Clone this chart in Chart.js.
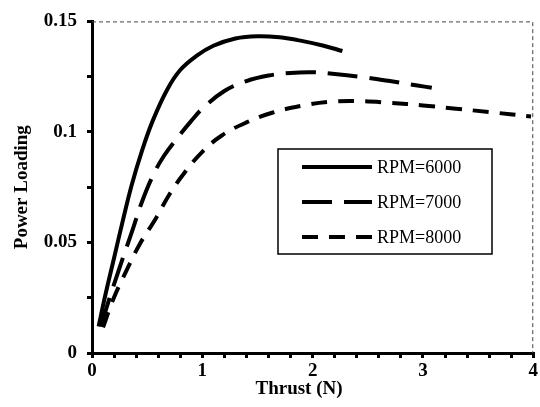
<!DOCTYPE html>
<html>
<head>
<meta charset="utf-8">
<script src="https://cdn.jsdelivr.net/npm/chart.js@4/dist/chart.umd.min.js"></script>
<style>
  html, body { margin: 0; padding: 0; background: #fff; }
  #wrap { width: 540px; height: 407px; position: relative; }
</style>
</head>
<body>
<div id="wrap"><canvas id="c" width="540" height="407"></canvas></div>
<script>
// ---- data ----
const seriesLabels = ['RPM=6000', 'RPM=7000', 'RPM=8000'];

const thrust6000 = [0.06, 0.12, 0.2, 0.28, 0.36, 0.45, 0.55, 0.68, 0.8, 0.95, 1.1, 1.3, 1.5, 1.7, 1.9, 2.1, 2.27];
const load6000   = [0.012, 0.026, 0.043, 0.060, 0.076, 0.091, 0.105, 0.119, 0.128, 0.1345, 0.139, 0.1423, 0.1433, 0.1428, 0.1412, 0.139, 0.1366];

const thrust7000 = [0.08, 0.16, 0.28, 0.37, 0.45, 0.55, 0.65, 0.77, 0.9, 1.0, 1.2, 1.4, 1.6, 1.8, 2.0, 2.2, 2.45, 2.7, 2.95, 3.08];
const load7000   = [0.012, 0.025, 0.043, 0.056, 0.068, 0.080, 0.089, 0.097, 0.105, 0.1105, 0.1185, 0.123, 0.1255, 0.1267, 0.127, 0.1262, 0.1248, 0.123, 0.121, 0.120];

const thrust8000 = [0.1, 0.19, 0.31, 0.43, 0.58, 0.70, 0.83, 1.0, 1.18, 1.40, 1.64, 1.91, 2.15, 2.4, 2.7, 3.0, 3.3, 3.6, 3.98];
const load8000   = [0.0116, 0.024, 0.037, 0.049, 0.061, 0.0716, 0.081, 0.091, 0.0985, 0.1043, 0.1088, 0.1119, 0.1136, 0.1140, 0.1132, 0.1120, 0.1105, 0.1090, 0.1070];

const xTicksShown = [0, 1, 2, 3, 4];
const yTicksShown = [0, 0.05, 0.1, 0.15];
const xTitle = 'Thrust (N)';
const yTitle = 'Power Loading';

function pts(xs, ys) { return xs.map((x, i) => ({ x: x, y: ys[i] })); }
function isShown(v, list) { return list.some(t => Math.abs(t - v) < 1e-9); }

const SERIF = '"Liberation Serif", "Times New Roman", serif';

const legendPlugin = {
  id: 'boxLegend',
  afterDatasetsDraw(chart) {
    const ctx = chart.ctx;
    const a = chart.chartArea;
    ctx.save();
    // dashed top and right frame
    ctx.setLineDash([4, 3]);
    ctx.strokeStyle = '#444';
    ctx.lineWidth = 1;
    ctx.beginPath();
    ctx.moveTo(a.left, a.top + 0.5);
    ctx.lineTo(a.right - 0.5, a.top + 0.5);
    ctx.lineTo(a.right - 0.5, a.bottom);
    ctx.stroke();
    ctx.setLineDash([]);

    // legend box
    const bx = 278, by = 149, bw = 214, bh = 105;
    ctx.fillStyle = '#fff';
    ctx.fillRect(bx, by, bw, bh);
    ctx.strokeStyle = '#000';
    ctx.lineWidth = 1.5;
    ctx.strokeRect(bx, by, bw, bh);
    const rowY = [167, 202, 237];
    chart.data.datasets.forEach((ds, i) => {
      const y = rowY[i];
      ctx.setLineDash(ds.borderDash || []);
      ctx.lineWidth = ds.borderWidth;
      ctx.strokeStyle = ds.borderColor;
      ctx.beginPath();
      ctx.moveTo(302, y);
      ctx.lineTo(372, y);
      ctx.stroke();
      ctx.setLineDash([]);
      ctx.fillStyle = '#000';
      ctx.font = '18px ' + SERIF;
      ctx.textBaseline = 'middle';
      ctx.textAlign = 'left';
      ctx.fillText(ds.label, 377, y + 1);
    });

    // x axis title (slightly left of centre, as in the reference)
    ctx.font = 'bold 19px ' + SERIF;
    ctx.textAlign = 'center';
    ctx.textBaseline = 'middle';
    ctx.fillStyle = '#000';
    ctx.fillText(xTitle, 299, 389);
    ctx.restore();
  }
};

new Chart(document.getElementById('c'), {
  type: 'line',
  data: {
    datasets: [
      { label: seriesLabels[0], data: pts(thrust6000, load6000), borderColor: '#000', borderWidth: 4, borderDash: [], pointRadius: 0, tension: 0.4, fill: false },
      { label: seriesLabels[1], data: pts(thrust7000, load7000), borderColor: '#000', borderWidth: 4, borderDash: [30, 12], pointRadius: 0, tension: 0.4, fill: false },
      { label: seriesLabels[2], data: pts(thrust8000, load8000), borderColor: '#000', borderWidth: 4, borderDash: [16, 11], pointRadius: 0, tension: 0.4, fill: false }
    ]
  },
  options: {
    responsive: false,
    maintainAspectRatio: false,
    animation: false,
    devicePixelRatio: 1,
    layout: { padding: { top: 18, right: 5, left: 0, bottom: 0 } },
    plugins: { legend: { display: false }, tooltip: { enabled: false } },
    scales: {
      x: {
        type: 'linear', min: 0, max: 4,
        afterFit(s) { s.height = 54; },
        ticks: {
          stepSize: 0.2, autoSkip: false, maxRotation: 0, padding: 2,
          color: '#000', font: { family: SERIF, size: 19, weight: 'bold' },
          callback: v => isShown(v, xTicksShown) ? String(Math.round(v)) : ''
        },
        grid: { drawOnChartArea: false, drawTicks: true, tickLength: 5, tickWidth: 3, tickColor: '#000', color: '#000', lineWidth: 3 },
        border: { display: true, color: '#000', width: 3 },
        title: { display: false }
      },
      y: {
        type: 'linear', min: 0, max: 0.15,
        afterFit(s) { s.width = 92; },
        ticks: {
          stepSize: 0.025, autoSkip: false, padding: 10,
          color: '#000', font: { family: SERIF, size: 19, weight: 'bold' },
          callback: v => isShown(v, yTicksShown) ? String(Math.round(v * 1000) / 1000) : ''
        },
        grid: { drawOnChartArea: false, drawTicks: true, tickLength: 5, tickWidth: 3, tickColor: '#000', color: '#000', lineWidth: 3 },
        border: { display: true, color: '#000', width: 3 },
        title: { display: true, text: yTitle, color: '#000', font: { family: SERIF, size: 19, weight: 'bold' }, padding: { top: 11, bottom: 0 } }
      }
    }
  },
  plugins: [legendPlugin]
});
</script>
</body>
</html>
